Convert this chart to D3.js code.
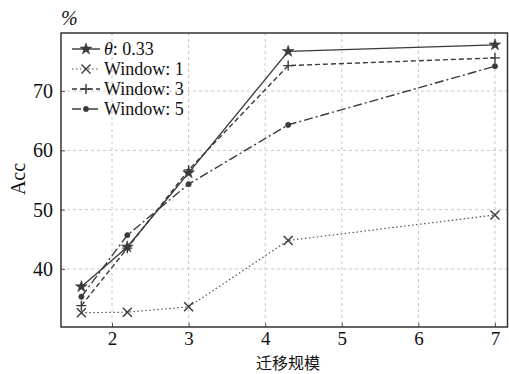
<!DOCTYPE html>
<html>
<head>
<meta charset="utf-8">
<script src="https://cdn.jsdelivr.net/npm/d3@7"></script>
<style>
  body { margin: 0; background: #fff; }
  svg text { font-family: "Liberation Serif", "Times New Roman", Times, "DejaVu Serif", "Noto Serif", serif; fill: #111; }
</style>
</head>
<body>
<script>

// data
const scales = [1.6, 2.2, 3, 4.3, 7]
const thetaAcc = [37.0, 43.7, 56.2, 76.7, 77.8]
const window1Acc = [32.6, 32.7, 33.6, 44.8, 49.1]
const window3Acc = [33.8, 43.5, 56.7, 74.3, 75.6]
const window5Acc = [35.3, 45.7, 54.3, 64.3, 74.2]
const xTicks = [2, 3, 4, 5, 6, 7]
const yTicks = [40, 50, 60, 70]
const seriesNames = ["θ: 0.33", "Window: 1", "Window: 3", "Window: 5"]

const serifFont = '"Liberation Serif", "Times New Roman", Times, "DejaVu Serif", "Noto Serif", serif'

window.onload = function () {

    const width = 509, height = 374
    const margin = {left: 61, top: 33, right: 1, bottom: 47}

    const svg = d3.select('body').append('svg')
        .attr('width', width)
        .attr('height', height)

    const x = d3.scaleLinear().domain([1.334, 7.17]).range([margin.left, width - margin.right])
    const y = d3.scaleLinear().domain([30.2, 79.8]).range([height - margin.bottom, margin.top])

    const lineColor = '#3a3a3a'

    // grid
    svg.append('g').selectAll('line.vgrid')
        .data(xTicks)
        .join('line')
        .attr('x1', d => x(d)).attr('x2', d => x(d))
        .attr('y1', y.range()[1]).attr('y2', y.range()[0])
        .attr('stroke', '#c8c8c8').attr('stroke-width', 1).attr('stroke-dasharray', '3,3')

    svg.append('g').selectAll('line.hgrid')
        .data(yTicks)
        .join('line')
        .attr('x1', x.range()[0]).attr('x2', x.range()[1])
        .attr('y1', d => y(d)).attr('y2', d => y(d))
        .attr('stroke', '#c8c8c8').attr('stroke-width', 1).attr('stroke-dasharray', '3,3')

    // axes with inward ticks
    const xAxis = svg.append('g')
        .attr('transform', getTranslateString(0, y.range()[0]))
        .call(d3.axisBottom(x).tickValues(xTicks).tickFormat(d3.format('d'))
            .tickSizeInner(-4).tickSizeOuter(0).tickPadding(5))
    const yAxis = svg.append('g')
        .attr('transform', getTranslateString(x.range()[0], 0))
        .call(d3.axisLeft(y).tickValues(yTicks).tickFormat(d3.format('d'))
            .tickSizeInner(-4).tickSizeOuter(0).tickPadding(8))

    for (const ax of [xAxis, yAxis]) {
        ax.attr('font-family', null).attr('font-size', null)
        ax.select('.domain').remove()
        ax.selectAll('.tick line').attr('stroke', '#555')
        ax.selectAll('.tick text')
            .style('font-family', serifFont)
            .style('font-size', '20px')
            .attr('fill', '#111')
    }
    xAxis.selectAll('.tick text').style('font-size', '19px')

    // frame
    svg.append('rect')
        .attr('x', x.range()[0]).attr('y', y.range()[1])
        .attr('width', x.range()[1] - x.range()[0] - 0.5)
        .attr('height', y.range()[0] - y.range()[1])
        .attr('fill', 'none').attr('stroke', '#333').attr('stroke-width', 1.5)

    // markers
    function markerPath(kind){
        if (kind === 'star') return d3.symbol(d3.symbolStar, 42)()
        if (kind === 'circle') return d3.symbol(d3.symbolCircle, 22)()
        if (kind === 'plus') return 'M-5,0L5,0M0,-5L0,5'
        return 'M-4.5,-4.5L4.5,4.5M-4.5,4.5L4.5,-4.5'
    }

    const series = [
        {name: seriesNames[0], values: thetaAcc, dash: null, marker: 'star'},
        {name: seriesNames[1], values: window1Acc, dash: '1.5,2.5', marker: 'x'},
        {name: seriesNames[2], values: window3Acc, dash: '5,3', marker: 'plus'},
        {name: seriesNames[3], values: window5Acc, dash: '9,3,2,3', marker: 'circle'}
    ]

    const line = d3.line().x(d => x(d[0])).y(d => y(d[1]))

    function drawMarker(g, kind, px, py){
        const filled = kind === 'star' || kind === 'circle'
        g.append('path')
            .attr('d', markerPath(kind))
            .attr('transform', getTranslateString(px, py))
            .attr('fill', filled ? lineColor : 'none')
            .attr('stroke', lineColor)
            .attr('stroke-width', filled ? 0.6 : 1.4)
    }

    series.forEach(s => {
        const pts = scales.map((sc, i) => [sc, s.values[i]])
        const g = svg.append('g')
        g.append('path')
            .attr('d', line(pts))
            .attr('fill', 'none')
            .attr('stroke', s.marker === 'x' ? '#555' : lineColor)
            .attr('stroke-width', s.marker === 'x' ? 1.2 : 1.4)
            .attr('stroke-dasharray', s.dash)
        pts.forEach(p => drawMarker(g, s.marker, x(p[0]), y(p[1])))
    })

    // legend
    const legend = svg.append('g')
    const legendRows = [49, 69, 89, 109]
    series.forEach((s, i) => {
        const ly = legendRows[i]
        const g = legend.append('g')
        g.append('line')
            .attr('x1', 72).attr('x2', 100)
            .attr('y1', ly).attr('y2', ly)
            .attr('stroke', s.marker === 'x' ? '#555' : lineColor)
            .attr('stroke-width', s.marker === 'x' ? 1.2 : 1.4)
            .attr('stroke-dasharray', s.dash)
        drawMarker(g, s.marker, 86, ly)
        const t = g.append('text')
            .attr('x', 104).attr('y', ly + 6)
            .style('font-family', serifFont)
            .style('font-size', '18px')
        if (i === 0) {
            t.append('tspan').style('font-style', 'italic').text('θ')
            t.append('tspan').text(': 0.33')
        } else {
            t.text(s.name)
        }
    })

    // titles
    svg.append('text')
        .attr('x', 61).attr('y', 25)
        .style('font-family', serifFont)
        .style('font-size', '20px').style('font-style', 'italic')
        .text('%')

    svg.append('text')
        .attr('transform', getTranslateString(25, 179) + ' rotate(-90)')
        .attr('text-anchor', 'middle')
        .style('font-family', serifFont)
        .style('font-size', '20px')
        .text('Acc')

    svg.append('text')
        .attr('x', 288).attr('y', 369)
        .attr('text-anchor', 'middle')
        .style('font-family', '"Noto Sans CJK SC", sans-serif')
        .style('font-size', '16px')
        .text('迁移规模')
}

function getTranslateString(x, y){
    return 'translate(' + x + ',' + y + ')'
}
</script>
</body>
</html>
